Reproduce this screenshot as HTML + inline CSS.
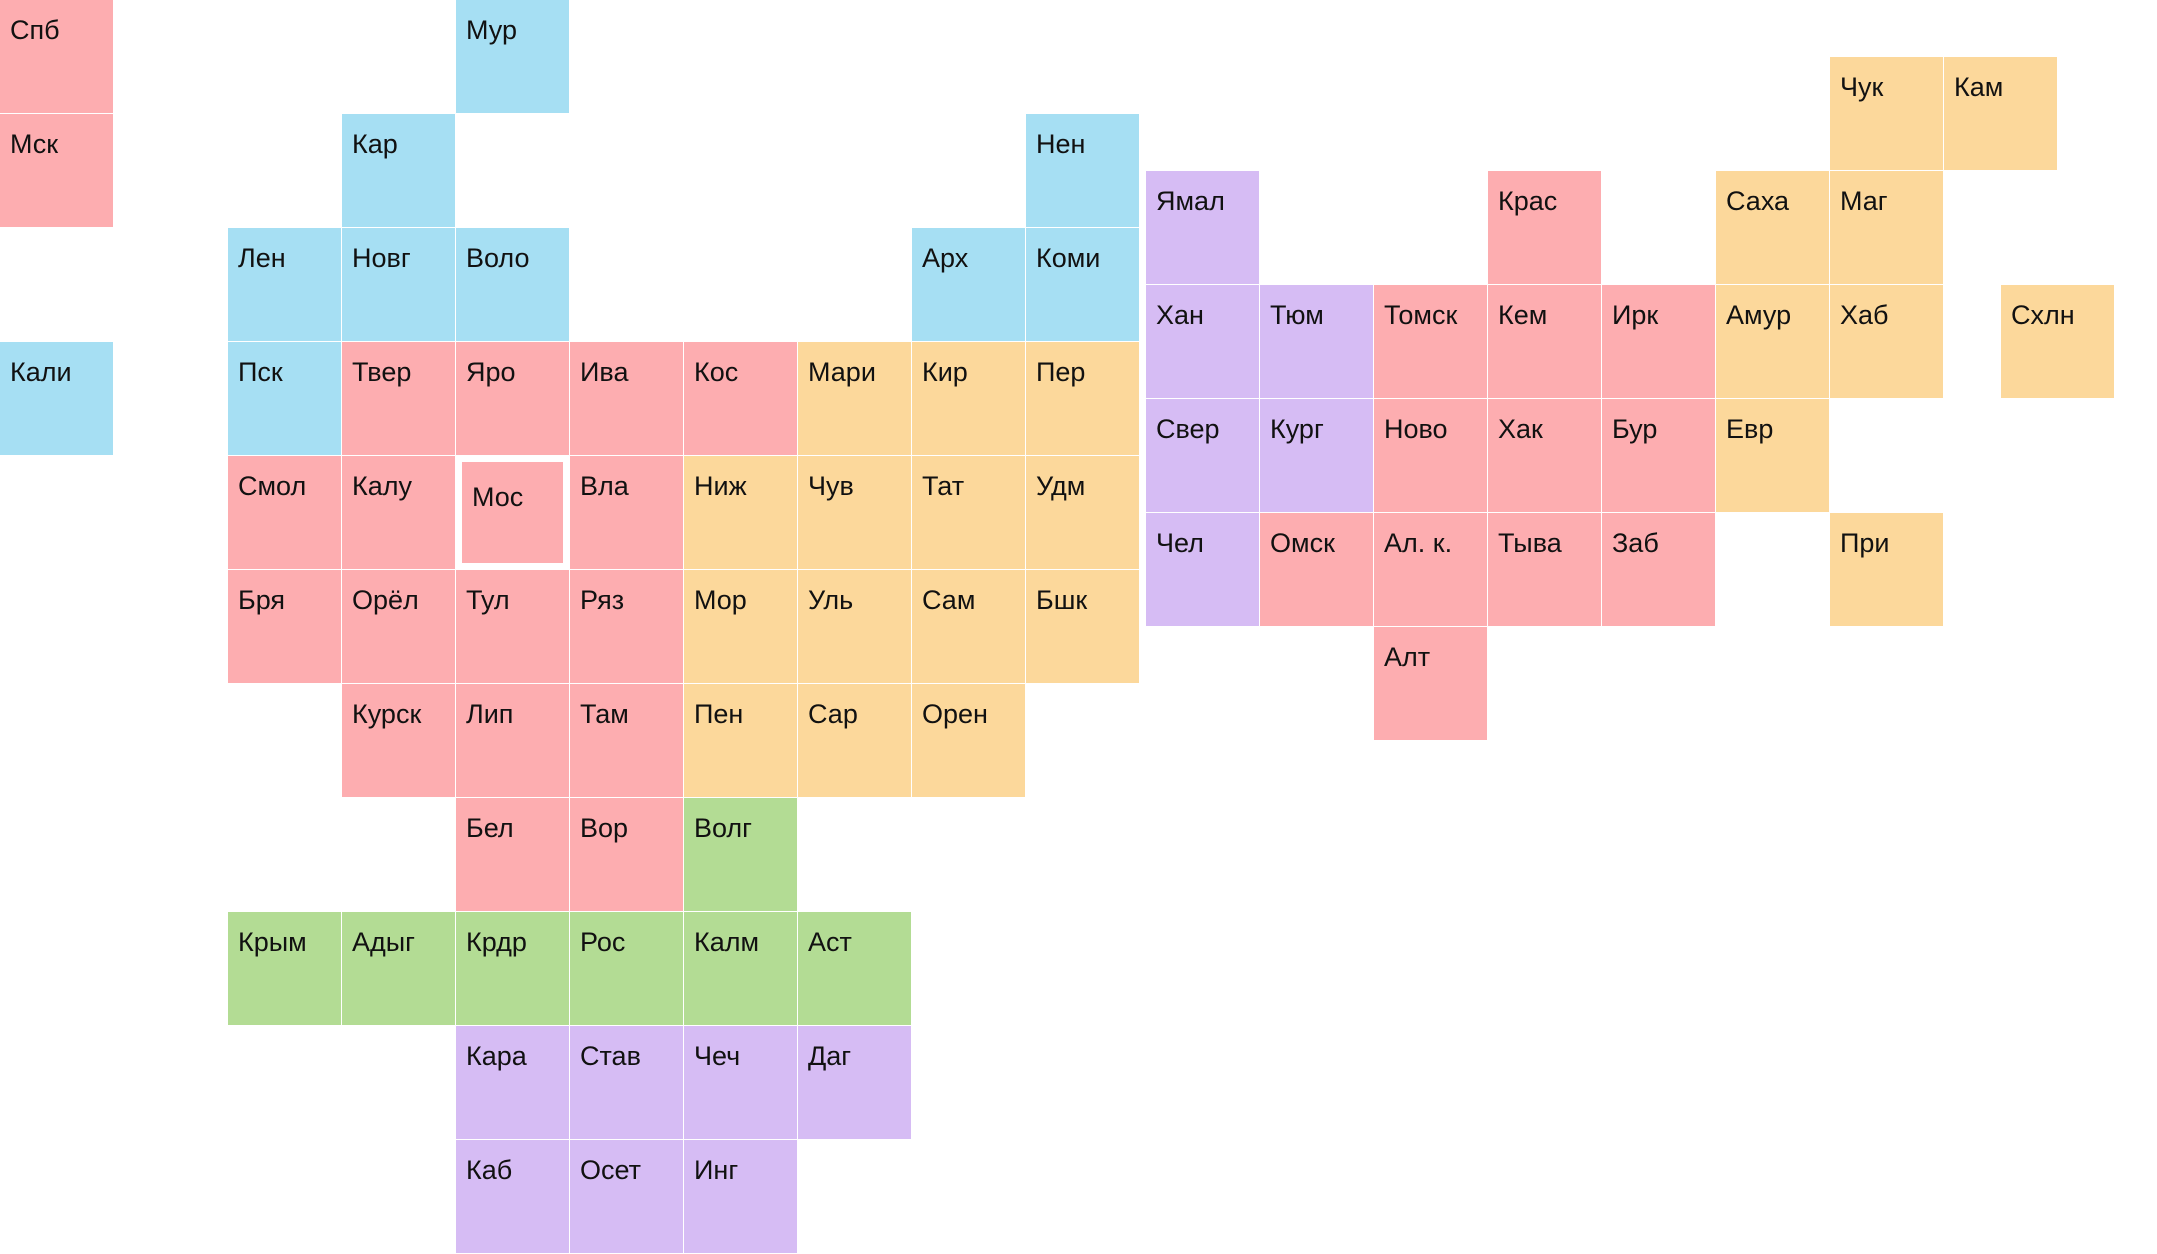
<!DOCTYPE html>
<html><head><meta charset="utf-8">
<style>
html,body{margin:0;padding:0;background:#fff;}
#map{position:relative;width:2157px;height:1254px;overflow:hidden;font-family:"Liberation Sans","Noto Sans CJK SC",sans-serif;}
.cell{position:absolute;width:113px;height:113px;box-sizing:border-box;}
.cell span{position:absolute;left:10px;top:15px;font-size:27px;color:#111;line-height:30px;white-space:nowrap;}
.cell.sel{border:6px solid #fff;}
.cell.sel span{left:10px;top:20px;}
</style></head>
<body>
<div id="map"></div>
<script>
const westNames = ["Спб","Мск","Кали","Мур","Кар","Нен","Лен","Новг","Воло","Арх","Коми","Пск","Твер","Яро","Ива","Кос","Мари","Кир","Пер","Смол","Калу","Мос","Вла","Ниж","Чув","Тат","Удм","Бря","Орёл","Тул","Ряз","Мор","Уль","Сам","Бшк","Курск","Лип","Там","Пен","Сар","Орен","Бел","Вор","Волг","Крым","Адыг","Крдр","Рос","Калм","Аст","Кара","Став","Чеч","Даг","Каб","Осет","Инг"];
const westCols = [0,0,0,4,3,9,2,3,4,8,9,2,3,4,5,6,7,8,9,2,3,4,5,6,7,8,9,2,3,4,5,6,7,8,9,3,4,5,6,7,8,4,5,6,2,3,4,5,6,7,4,5,6,7,4,5,6];
const westRows = [0,1,3,0,1,1,2,2,2,2,2,3,3,3,3,3,3,3,3,4,4,4,4,4,4,4,4,5,5,5,5,5,5,5,5,6,6,6,6,6,6,7,7,7,8,8,8,8,8,8,9,9,9,9,10,10,10];
const westGroups = ["p","p","b","b","b","b","b","b","b","b","b","b","p","p","p","p","y","y","y","p","p","p","p","y","y","y","y","p","p","p","p","y","y","y","y","p","p","p","y","y","y","p","p","g","g","g","g","g","g","g","v","v","v","v","v","v","v"];
const eastNames = ["Чук","Кам","Ямал","Крас","Саха","Маг","Хан","Тюм","Томск","Кем","Ирк","Амур","Хаб","Схлн","Свер","Кург","Ново","Хак","Бур","Евр","Чел","Омск","Ал. к.","Тыва","Заб","При","Алт"];
const eastCols = [6,7,0,3,5,6,0,1,2,3,4,5,6,7.5,0,1,2,3,4,5,0,1,2,3,4,6,2];
const eastRows = [0,0,1,1,1,1,2,2,2,2,2,2,2,2,3,3,3,3,3,3,4,4,4,4,4,4,5];
const eastGroups = ["y","y","v","p","y","y","v","v","p","p","p","y","y","y","v","v","p","p","p","y","v","p","p","p","p","y","p"];
const selected = "Мос";

const colors = {p:"#fdadb0",b:"#a6dff3",y:"#fcd89b",g:"#b3dc94",v:"#d6bcf4"};
const PITCH = 114;
const map = document.getElementById('map');
function place(name, col, row, grp, x0, y0){
  const d = document.createElement('div');
  d.className = 'cell' + (name === selected ? ' sel' : '');
  d.style.left = Math.round(x0 + col*PITCH) + 'px';
  d.style.top = (y0 + row*PITCH) + 'px';
  d.style.background = colors[grp];
  
  
  const s = document.createElement('span');
  s.textContent = name;
  
  
  d.appendChild(s);
  map.appendChild(d);
}
westNames.forEach((n,i)=>place(n, westCols[i], westRows[i], westGroups[i], 0, 0));
eastNames.forEach((n,i)=>place(n, eastCols[i], eastRows[i], eastGroups[i], 1146, 57));
</script>
</body></html>
